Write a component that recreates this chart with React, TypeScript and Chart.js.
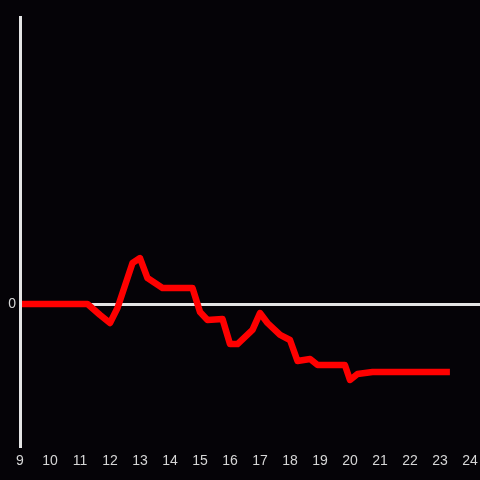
import React, { useEffect, useRef } from "react";
import { Chart, registerables } from "chart.js";

Chart.register(...registerables);

const hours = [9, 11.25, 11.67, 12, 12.25, 12.75, 13, 13.25, 13.75, 14.75, 15, 15.25, 15.75, 16, 16.25, 16.75, 17, 17.25, 17.67, 18, 18.25, 18.67, 18.92, 19.83, 20, 20.25, 20.75, 23.33];
const values = [0, 0, -0.076, -0.132, -0.028, 0.285, 0.319, 0.18, 0.111, 0.111, -0.056, -0.111, -0.104, -0.278, -0.278, -0.18, -0.063, -0.132, -0.215, -0.25, -0.396, -0.382, -0.424, -0.424, -0.528, -0.486, -0.472, -0.472];
const xTicks = [9, 10, 11, 12, 13, 14, 15, 16, 17, 18, 19, 20, 21, 22, 23, 24];
const yTicks = [0];

const BG = "#050307";
const AXIS = "#e4e4e4";
const TEXT = "#d6d6d6";

export default function App() {
  const ref = useRef<HTMLCanvasElement | null>(null);
  useEffect(() => {
    const canvas = ref.current;
    if (!canvas) return;
    const bgPlugin = {
      id: "bg",
      beforeDraw(chart: any) {
        const { ctx, width, height } = chart;
        ctx.save();
        ctx.fillStyle = BG;
        ctx.fillRect(0, 0, width, height);
        ctx.restore();
      },
      afterDatasetsDraw(chart: any) {
        const { ctx, chartArea } = chart;
        ctx.save();
        ctx.strokeStyle = AXIS;
        ctx.lineWidth = 3;
        ctx.beginPath();
        ctx.moveTo(chartArea.left + 0.5, chartArea.top);
        ctx.lineTo(chartArea.left + 0.5, chartArea.bottom);
        ctx.stroke();
        ctx.restore();
      },
    };
    const chart = new Chart(canvas, {
      type: "line",
      data: {
        datasets: [
          {
            data: hours.map((h, i) => ({ x: h, y: values[i] })),
            borderColor: "#ff0000",
            borderWidth: 6.5,
            pointRadius: 0,
            tension: 0,
            fill: false,
            borderJoinStyle: "round",
          },
        ],
      },
      options: {
        responsive: false,
        animation: false,
        layout: { padding: { top: 16, left: 0, right: 0, bottom: 0 } },
        plugins: { legend: { display: false }, tooltip: { enabled: false } },
        scales: {
          x: {
            type: "linear",
            min: 9,
            max: 24 + 1 / 3,
            afterBuildTicks: (s: any) => {
              s.ticks = xTicks.map((v) => ({ value: v }));
            },
            afterFit: (s: any) => {
              s.height = 32;
              s.paddingLeft = 0;
              s.paddingRight = 0;
            },
            grid: { display: false, drawTicks: false },
            border: { display: false },
            ticks: {
              color: TEXT,
              padding: 5,
              maxRotation: 0,
              autoSkip: false,
              font: { family: "Liberation Sans, Arial, sans-serif", size: 14 },
              callback: (v: any) => String(v),
            },
          },
          y: {
            min: -1,
            max: 2,
            afterBuildTicks: (s: any) => {
              s.ticks = yTicks.map((v) => ({ value: v }));
            },
            afterFit: (s: any) => {
              s.width = 20;
              s.paddingTop = 0;
              s.paddingBottom = 0;
            },
            grid: { color: AXIS, lineWidth: 3, drawTicks: false },
            border: { display: false },
            ticks: {
              color: TEXT,
              padding: 4,
              font: { family: "Liberation Sans, Arial, sans-serif", size: 14 },
              callback: (v: any) => String(v),
            },
          },
        },
      },
      plugins: [bgPlugin],
    } as any);
    return () => chart.destroy();
  }, []);
  return (
    <div style={{ position: "fixed", left: 0, top: 0, width: 480, height: 480, background: BG }}>
      <canvas ref={ref} width={480} height={480} style={{ display: "block" }} />
    </div>
  );
}
